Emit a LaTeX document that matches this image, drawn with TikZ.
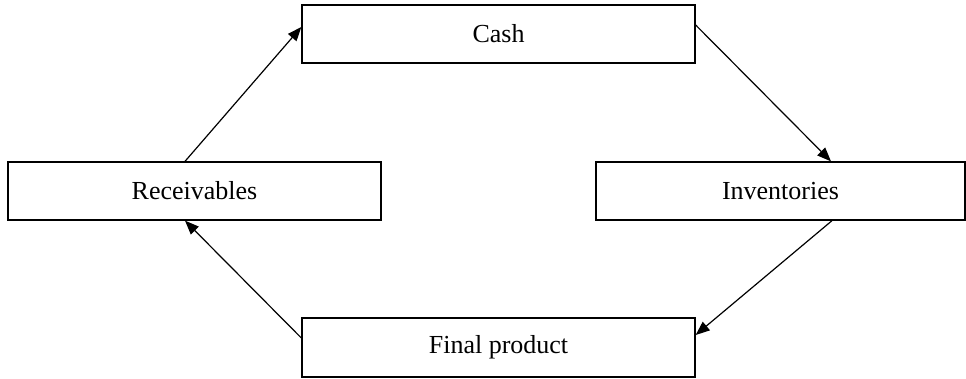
\documentclass[tikz,border=0pt]{standalone}
\usepackage{fontspec}
\setmainfont{Liberation Serif}
\usetikzlibrary{arrows.meta}
\begin{document}
\begin{tikzpicture}[x=1pt,y=-1pt,
  box/.style={draw,line width=1.3pt,inner sep=0pt,minimum height=58pt,font=\fontsize{26}{30}\selectfont},
  flow/.style={line width=1.2pt,-{Triangle[length=14pt,width=11pt]}}]
\useasboundingbox (0,0) rectangle (966,379);
\node[box,minimum width=393pt] (cash) at (498.5,34) {Cash};
\node[box,minimum width=373pt] (rec) at (194.5,191) {Receivables};
\node[box,minimum width=369pt] (inv) at (780.5,191) {Inventories};
\node[box,minimum width=393pt,minimum height=59pt] (fp) at (498.5,347.5) {Final product};
\draw[flow] ([xshift=-9.5pt]rec.north) -- ([yshift=7pt]cash.west);
\draw[flow] ([yshift=9pt]cash.east) -- ([xshift=50.5pt]inv.north);
\draw[flow] ([xshift=51.5pt]inv.south) -- ([yshift=12.5pt]fp.east);
\draw[flow] ([yshift=9.5pt]fp.west) -- ([xshift=-9.5pt]rec.south);
\end{tikzpicture}
\end{document}
